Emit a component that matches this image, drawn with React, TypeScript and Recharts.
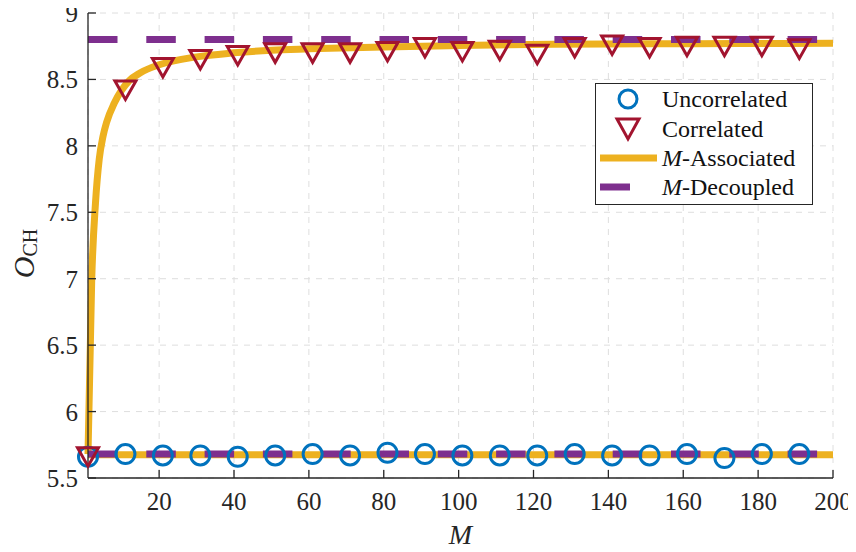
import {
  ComposedChart,
  Line,
  Scatter,
  XAxis,
  YAxis,
  CartesianGrid,
  Legend,
} from "recharts";

// marker positions (M) and read values
const markerM = [1, 11, 21, 31, 41, 51, 61, 71, 81, 91, 101, 111, 121, 131, 141, 151, 161, 171, 181, 191];
const uncorrelated = [5.66, 5.68, 5.67, 5.67, 5.66, 5.67, 5.68, 5.67, 5.69, 5.68, 5.67, 5.67, 5.67, 5.68, 5.67, 5.67, 5.68, 5.65, 5.68, 5.68];
const correlated = [5.66, 8.42, 8.59, 8.65, 8.68, 8.7, 8.7, 8.7, 8.71, 8.74, 8.71, 8.72, 8.69, 8.74, 8.76, 8.74, 8.75, 8.75, 8.75, 8.73];

// M-Associated curve (correlated case)
const assocM = [1, 2, 3, 4, 5, 6, 8, 10, 12, 15, 20, 30, 40, 50, 60, 80, 100, 125, 150, 175, 200];
const assocCorr = [5.68, 7.0, 7.57, 7.9, 8.07, 8.18, 8.32, 8.42, 8.49, 8.55, 8.61, 8.67, 8.7, 8.72, 8.73, 8.745, 8.755, 8.765, 8.768, 8.77, 8.772];

// flat lines
const flatM = [1, 200];
const assocUncorr = [5.675, 5.675];
const decoupledCorr = [8.8, 8.8];
const decoupledUncorr = [5.68, 5.68];

const xTicks = [20, 40, 60, 80, 100, 120, 140, 160, 180, 200];
const yTicks = [5.5, 6, 6.5, 7, 7.5, 8, 8.5, 9];

const BLUE = "#0072BD";
const RED = "#A2142F";
const YELLOW = "#EDB120";
const PURPLE = "#7E2F8E";
const AXIS = "#262626";
const FONT = "Liberation Serif";

const X_MARGIN = 14;
const Y_MARGIN = 10;
const TICK_LEN = 8;

const zip = (xs: number[], ys: number[]) => xs.map((m, i) => ({ m, v: ys[i] }));

const uncorrData = zip(markerM, uncorrelated);
const corrData = zip(markerM, correlated);
const assocCorrData = zip(assocM, assocCorr);
const assocUncorrData = zip(flatM, assocUncorr);
const decCorrData = zip(flatM, decoupledCorr);
const decUncorrData = zip(flatM, decoupledUncorr);

const BottomTick = (props: any) => {
  const { x, y, payload } = props;
  return (
    <g>
      <line x1={x} x2={x} y1={y - X_MARGIN} y2={y - X_MARGIN - TICK_LEN} stroke={AXIS} strokeWidth={1.3} />
      <text x={x} y={y} dy="0.71em" textAnchor="middle" fill={AXIS} fontSize={25} style={{ fontFamily: FONT }}>
        {payload.value}
      </text>
    </g>
  );
};

const TopTick = (props: any) => {
  const { x, y } = props;
  return <line x1={x} x2={x} y1={y} y2={y + TICK_LEN} stroke={AXIS} strokeWidth={1.3} />;
};

const LeftTick = (props: any) => {
  const { x, y, payload } = props;
  return (
    <g>
      <line x1={x + Y_MARGIN} x2={x + Y_MARGIN + TICK_LEN} y1={y} y2={y} stroke={AXIS} strokeWidth={1.3} />
      <text x={x} y={y} dy="0.36em" textAnchor="end" fill={AXIS} fontSize={25} style={{ fontFamily: FONT }}>
        {payload.value}
      </text>
    </g>
  );
};

const RightTick = (props: any) => {
  const { x, y } = props;
  return <line x1={x} x2={x - TICK_LEN} y1={y} y2={y} stroke={AXIS} strokeWidth={1.3} />;
};

const CircleMark = (props: any) => {
  const { cx, cy } = props;
  return <circle cx={cx} cy={cy} r={9.5} fill="none" stroke={BLUE} strokeWidth={3} />;
};

const TriangleMark = (props: any) => {
  const { cx, cy } = props;
  return (
    <path
      d={`M${cx - 10.5},${cy - 9} L${cx + 10.5},${cy - 9} L${cx},${cy + 9.5} Z`}
      fill="none"
      stroke={RED}
      strokeWidth={3}
    />
  );
};

const LegendBox = () => (
  <svg width={218} height={122} style={{ display: "block" }}>
    <rect x={0.5} y={0.5} width={217} height={121} fill="#fff" stroke={AXIS} strokeWidth={1} />
    <circle cx={33} cy={16} r={9} fill="none" stroke={BLUE} strokeWidth={3} />
    <path d="M22,36 L44,36 L33,56 Z" fill="none" stroke={RED} strokeWidth={3} />
    <line x1={5} x2={62} y1={75} y2={75} stroke={YELLOW} strokeWidth={7} />
    <line x1={5} x2={35} y1={104} y2={104} stroke={PURPLE} strokeWidth={7} />
    <g fontSize={24} fill="#111" style={{ fontFamily: FONT }}>
      <text x={67} y={24}>Uncorrelated</text>
      <text x={67} y={54}>Correlated</text>
      <text x={67} y={83}>
        <tspan fontStyle="italic">M</tspan>-Associated
      </text>
      <text x={67} y={112}>
        <tspan fontStyle="italic">M</tspan>-Decoupled
      </text>
    </g>
  </svg>
);

export default function App() {
  return (
    <div style={{ width: 856, height: 552, margin: "-8px 0 0 -8px", fontFamily: FONT }}>
      <ComposedChart width={856} height={552} margin={{ top: 13, right: 23, left: 8, bottom: 0 }}>
        <CartesianGrid stroke="#dedede" strokeDasharray="6 6" strokeWidth={1} />

        <Scatter data={uncorrData} dataKey="v" shape={<CircleMark />} isAnimationActive={false} />
        <Scatter data={corrData} dataKey="v" shape={<TriangleMark />} isAnimationActive={false} />

        <Line data={assocCorrData} dataKey="v" type="monotone" stroke={YELLOW} strokeWidth={7} dot={false} activeDot={false} isAnimationActive={false} />
        <Line data={assocUncorrData} dataKey="v" type="linear" stroke={YELLOW} strokeWidth={7} dot={false} activeDot={false} isAnimationActive={false} />
        <Line data={decCorrData} dataKey="v" type="linear" stroke={PURPLE} strokeWidth={7} strokeDasharray="29.5 28.8" dot={false} activeDot={false} isAnimationActive={false} />
        <Line data={decUncorrData} dataKey="v" type="linear" stroke={PURPLE} strokeWidth={7} strokeDasharray="29.5 28.8" dot={false} activeDot={false} isAnimationActive={false} />

        <XAxis
          dataKey="m"
          type="number"
          domain={[1, 200]}
          ticks={xTicks}
          height={74}
          tickSize={0}
          tickMargin={X_MARGIN}
          tick={<BottomTick />}
          axisLine={{ stroke: AXIS, strokeWidth: 1.3 }}
          label={{
            content: (p: any) => {
              const vb = p.viewBox;
              return (
                <text x={vb.x + vb.width / 2} y={vb.y + 66} textAnchor="middle" fontSize={28} fontStyle="italic" fill={AXIS} style={{ fontFamily: FONT }}>
                  M
                </text>
              );
            },
          }}
        />
        <XAxis
          xAxisId="top"
          orientation="top"
          dataKey="m"
          type="number"
          domain={[1, 200]}
          ticks={xTicks}
          height={0}
          tickSize={0}
          tickMargin={0}
          tick={<TopTick />}
          axisLine={{ stroke: AXIS, strokeWidth: 1.3 }}
        />
        <YAxis
          type="number"
          domain={[5.5, 9]}
          ticks={yTicks}
          width={80}
          tickSize={0}
          tickMargin={Y_MARGIN}
          tick={<LeftTick />}
          axisLine={{ stroke: AXIS, strokeWidth: 1.3 }}
          label={{
            content: (p: any) => {
              const vb = p.viewBox;
              const tx = vb.x + 26;
              const ty = vb.y + vb.height / 2 + 8;
              return (
                <text transform={`translate(${tx},${ty}) rotate(-90)`} textAnchor="middle" fill={AXIS} style={{ fontFamily: FONT }}>
                  <tspan fontSize={30} fontStyle="italic">O</tspan>
                  <tspan fontSize={20} dy={3}>CH</tspan>
                </text>
              );
            },
          }}
        />
        <YAxis
          yAxisId="right"
          orientation="right"
          type="number"
          domain={[5.5, 9]}
          ticks={yTicks}
          width={0}
          tickSize={0}
          tickMargin={0}
          tick={<RightTick />}
          axisLine={{ stroke: AXIS, strokeWidth: 1.3 }}
        />

        <Legend
          layout="vertical"
          align="center"
          verticalAlign="middle"
          content={() => <LegendBox />}
          wrapperStyle={{ left: 595, top: 83, width: 218, height: 122 }}
        />
      </ComposedChart>
    </div>
  );
}
